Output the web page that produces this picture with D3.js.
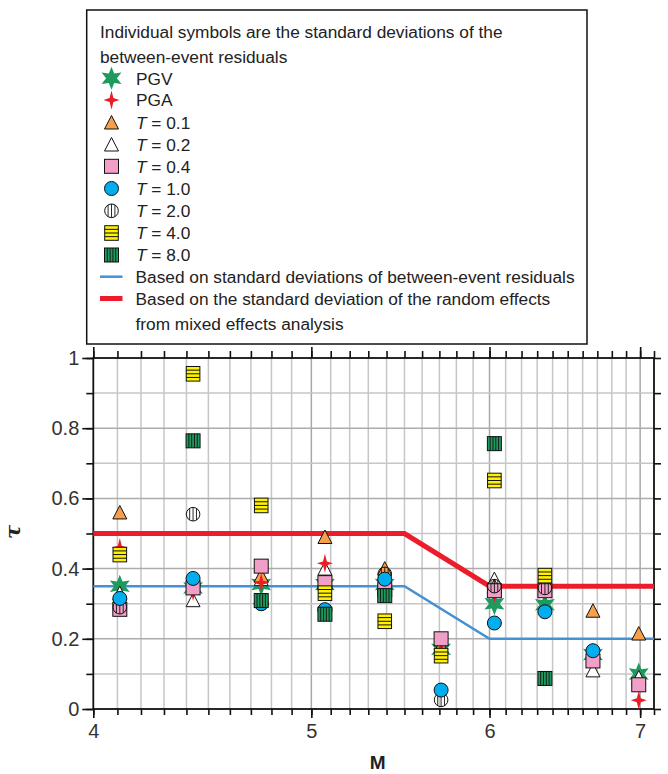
<!DOCTYPE html>
<html>
<head>
<meta charset="utf-8">
<script src="https://cdn.jsdelivr.net/npm/d3@7"></script>
<style>
  html, body { margin: 0; padding: 0; background: #fff; }
  svg { display: block; font-family: "Liberation Sans", Arial, Helvetica, sans-serif; }
</style>
</head>
<body>
<svg id="chart" width="668" height="774"></svg>
<script>
// Magnitude bin centres and the between-event standard deviation (tau) for each intensity measure
const magnitudes = [4.11, 4.43, 4.75, 5.07, 5.39, 5.71, 6.03, 6.35, 6.67, 6.99];
const tauPGV = [0.35, 0.345, 0.355, 0.355, 0.355, 0.17, 0.30, 0.297, 0.155, 0.10];
const tauPGA = [0.46, 0.335, 0.36, 0.415, 0.355, 0.17, 0.33, null, null, 0.025];
const tauT01 = [0.56, null, 0.38, 0.49, 0.40, 0.18, 0.35, null, 0.28, 0.215];
const tauT02 = [0.33, 0.31, 0.37, 0.40, null, null, 0.37, null, 0.11, 0.09];
const tauT04 = [0.284, 0.345, 0.407, 0.36, 0.34, 0.20, 0.337, 0.337, 0.137, 0.069];
const tauT10 = [0.315, 0.372, 0.30, 0.283, 0.37, 0.054, 0.245, 0.277, 0.166, null];
const tauT20 = [0.29, 0.555, 0.30, 0.28, 0.385, 0.026, 0.35, 0.345, null, null];
const tauT40 = [0.44, 0.955, 0.58, 0.33, 0.25, 0.152, 0.651, 0.38, null, null];
const tauT80 = [null, 0.764, 0.309, 0.27, 0.323, null, 0.756, 0.087, null, null];

// Piecewise tau models
const modelM = [4.0, 5.5, 6.0, 7.1];
const tauBetweenEvent = [0.35, 0.35, 0.20, 0.20];
const tauRandomEffects = [0.50, 0.50, 0.35, 0.35];

// Axis ticks
const xMajorTicks = [4, 5, 6, 7];
const xTickLabels = ["4", "5", "6", "7"];
const yMajorTicks = [0, 0.2, 0.4, 0.6, 0.8, 1];
const yTickLabels = ["0", "0.2", "0.4", "0.6", "0.8", "1"];

const headerLines = ["Individual symbols are the standard deviations of the", "between-event residuals"];

const svg = d3.select("#chart");
const plotLeft = 93.3, plotRight = 654, plotTop = 358, plotBottom = 709;

const x = d3.scaleLog().domain([4, 7.1]).range([plotLeft, plotRight]);
const y = d3.scaleLinear().domain([0, 1]).range([plotBottom, plotTop]);

const colors = {
  pgv: "#1f9a5e", pga: "#ec1c24", orange: "#f7a04b", pink: "#f29fc7",
  blue: "#00aeef", yellow: "#fff200", green: "#1f9a5e",
  lineBlue: "#4591d3", lineRed: "#ec1c2a"
};

// ---------- grid ----------
const xMinor = d3.range(41, 71).map(v => v / 10);
const yMinor = d3.range(1, 10).map(v => v / 10);
const grid = svg.append("g");
grid.selectAll("line.vx").data(xMinor).join("line")
  .attr("x1", d => x(d)).attr("x2", d => x(d)).attr("y1", plotTop).attr("y2", plotBottom)
  .attr("stroke", d => xMajorTicks.includes(Math.round(d * 10) / 10) ? "#a8a8a8" : "#c6c6c6")
  .attr("stroke-width", 1.5);
grid.selectAll("line.hy").data(yMinor).join("line")
  .attr("x1", plotLeft).attr("x2", plotRight).attr("y1", d => y(d)).attr("y2", d => y(d))
  .attr("stroke", d => (Math.round(d * 10) % 2 === 0) ? "#acacac" : "#c6c6c6")
  .attr("stroke-width", 1.5);

// ---------- axes ----------
const axisColor = "#111";
const labelColor = "#333";
function styleAxis(g) {
  g.select(".domain").remove();
  g.selectAll(".tick line").attr("stroke", axisColor).attr("stroke-width", 1.6);
}
const yMinorAll = d3.range(0, 11).map(v => v / 10);
const xMinorAll = d3.range(40, 72).map(v => v / 10).filter(v => v <= 7.1);

// left
svg.append("g").attr("transform", `translate(${plotLeft},0)`)
  .call(d3.axisLeft(y).tickValues(yMinorAll).tickSize(7).tickFormat(""))
  .call(styleAxis);
svg.append("g").attr("transform", `translate(${plotLeft},0)`)
  .call(d3.axisLeft(y).tickValues(yMajorTicks).tickSize(11).tickPadding(3)
    .tickFormat((d, i) => yTickLabels[i]))
  .call(styleAxis)
  .call(g => g.selectAll(".tick text").attr("fill", labelColor).attr("font-size", 20)
    .attr("font-family", "Liberation Sans, Arial, sans-serif"));
// right
svg.append("g").attr("transform", `translate(${plotRight},0)`)
  .call(d3.axisRight(y).tickValues(yMinorAll).tickSize(7).tickFormat(""))
  .call(styleAxis);
// bottom
svg.append("g").attr("transform", `translate(0,${plotBottom})`)
  .call(d3.axisBottom(x).tickValues(xMinorAll).tickSize(6).tickFormat(""))
  .call(styleAxis);
svg.append("g").attr("transform", `translate(0,${plotBottom})`)
  .call(d3.axisBottom(x).tickValues(xMajorTicks).tickSize(9).tickPadding(6)
    .tickFormat((d, i) => xTickLabels[i]))
  .call(styleAxis)
  .call(g => g.selectAll(".tick text").attr("fill", labelColor).attr("font-size", 20)
    .attr("font-family", "Liberation Sans, Arial, sans-serif"));
// top
svg.append("g").attr("transform", `translate(0,${plotTop})`)
  .call(d3.axisTop(x).tickValues(xMinorAll).tickSize(7).tickFormat(""))
  .call(styleAxis);
svg.append("g").attr("transform", `translate(0,${plotTop})`)
  .call(d3.axisTop(x).tickValues(xMajorTicks).tickSize(11).tickFormat(""))
  .call(styleAxis);

// frame
svg.append("rect").attr("x", plotLeft).attr("y", plotTop)
  .attr("width", plotRight - plotLeft).attr("height", plotBottom - plotTop)
  .attr("fill", "none").attr("stroke", axisColor).attr("stroke-width", 1.8);

// axis titles
svg.append("text").attr("x", (plotLeft + plotRight) / 2 + 4).attr("y", 769)
  .attr("text-anchor", "middle").attr("font-weight", "bold").attr("font-size", 19)
  .attr("fill", "#222").text("M");
svg.append("text").attr("transform", "translate(20,532) rotate(-90)")
  .attr("text-anchor", "middle").attr("font-weight", "bold").attr("font-style", "italic")
  .attr("font-size", 21).attr("fill", "#222").attr("font-family", "DejaVu Serif, serif").text("τ");

// ---------- model lines ----------
const line = d3.line().x(d => x(d[0])).y(d => y(d[1]));
svg.append("path").datum(modelM.map((m, i) => [m, tauBetweenEvent[i]]))
  .attr("d", line).attr("fill", "none").attr("stroke", colors.lineBlue).attr("stroke-width", 2.5);
svg.append("path").datum(modelM.map((m, i) => [m, tauRandomEffects[i]]))
  .attr("d", line).attr("fill", "none").attr("stroke", colors.lineRed).attr("stroke-width", 5)
  .attr("stroke-linejoin", "miter");

// ---------- symbols ----------
function starPath(n, rOuter, rInner) {
  const pts = [];
  for (let i = 0; i < 2 * n; i++) {
    const a = -Math.PI / 2 + i * Math.PI / n;
    const r = i % 2 === 0 ? rOuter : rInner;
    pts.push([r * Math.cos(a), r * Math.sin(a)]);
  }
  return "M" + pts.map(p => p[0].toFixed(2) + "," + p[1].toFixed(2)).join("L") + "Z";
}
function sparklePath() {
  const pts = [];
  for (let i = 0; i < 8; i++) {
    const a = -Math.PI / 2 + i * Math.PI / 4;
    const r = i % 2 === 1 ? 2.7 : (i % 4 === 0 ? 9.5 : 8);
    pts.push([r * Math.cos(a), r * Math.sin(a)]);
  }
  return "M" + pts.map(p => p[0].toFixed(2) + "," + p[1].toFixed(2)).join("L") + "Z";
}
const s = 7;
const drawers = {
  pgv: g => g.append("path").attr("d", starPath(6, 11.5, 5.4)).attr("fill", colors.pgv),
  pga: g => g.append("path").attr("d", sparklePath()).attr("fill", colors.pga),
  t01: g => g.append("path").attr("d", "M0,-7L7,6.5L-7,6.5Z").attr("fill", colors.orange)
    .attr("stroke", "#111").attr("stroke-width", 1),
  t02: g => g.append("path").attr("d", "M0,-7L7,6.5L-7,6.5Z").attr("fill", "#fff")
    .attr("stroke", "#111").attr("stroke-width", 1),
  t04: g => g.append("rect").attr("x", -s).attr("y", -s).attr("width", 2 * s).attr("height", 2 * s)
    .attr("fill", colors.pink).attr("stroke", "#111").attr("stroke-width", 1),
  t10: g => g.append("circle").attr("r", 7).attr("fill", colors.blue)
    .attr("stroke", "#111").attr("stroke-width", 1),
  t20: g => {
    g.append("circle").attr("r", 6.8).attr("fill", "none").attr("stroke", "#111").attr("stroke-width", 1);
    [-3.4, 0, 3.4].forEach(dx => {
      const h = Math.sqrt(6.8 * 6.8 - dx * dx);
      g.append("line").attr("x1", dx).attr("x2", dx).attr("y1", -h).attr("y2", h)
        .attr("stroke", "#111").attr("stroke-width", 0.9);
    });
  },
  t40: g => {
    g.append("rect").attr("x", -6.8).attr("y", -7.3).attr("width", 13.6).attr("height", 14.6)
      .attr("fill", colors.yellow).attr("stroke", "#111").attr("stroke-width", 1);
    [-3.65, 0, 3.65].forEach(dy => g.append("line").attr("x1", -6.8).attr("x2", 6.8)
      .attr("y1", dy).attr("y2", dy).attr("stroke", "#111").attr("stroke-width", 1));
  },
  t80: g => {
    g.append("rect").attr("x", -7).attr("y", -7).attr("width", 14).attr("height", 14)
      .attr("fill", colors.green).attr("stroke", "#111").attr("stroke-width", 1);
    [-4.2, -1.4, 1.4, 4.2].forEach(dx => g.append("line").attr("x1", dx).attr("x2", dx)
      .attr("y1", -7).attr("y2", 7).attr("stroke", "#111").attr("stroke-width", 0.9));
  }
};

// drawing order (later series are drawn on top)
const series = [
  { key: "pgv", values: tauPGV },
  { key: "t02", values: tauT02 },
  { key: "t01", values: tauT01 },
  { key: "pga", values: tauPGA },
  { key: "t04", values: tauT04 },
  { key: "t20", values: tauT20 },
  { key: "t10", values: tauT10 },
  { key: "t40", values: tauT40 },
  { key: "t80", values: tauT80 }
];
const marks = svg.append("g");
series.forEach(sr => {
  const pts = magnitudes.map((m, i) => ({ m, t: sr.values[i] })).filter(d => d.t != null);
  marks.append("g").selectAll("g").data(pts).join("g")
    .attr("transform", d => `translate(${x(d.m)},${y(d.t)})`)
    .each(function () { drawers[sr.key](d3.select(this)); });
});

// ---------- legend ----------
const lg = svg.append("g");
lg.append("rect").attr("x", 86.7).attr("y", 10).attr("width", 500.3).attr("height", 334)
  .attr("fill", "#fff").attr("stroke", "#111").attr("stroke-width", 1.5);
const legFont = 17.3;
headerLines.forEach((t, i) => lg.append("text").attr("x", 100).attr("y", 38 + i * 25)
  .attr("font-size", legFont).attr("fill", "#222").text(t));

const legendItems = [
  { key: "pgv", label: "PGV" },
  { key: "pga", label: "PGA" },
  { key: "t01", period: "0.1" },
  { key: "t02", period: "0.2" },
  { key: "t04", period: "0.4" },
  { key: "t10", period: "1.0" },
  { key: "t20", period: "2.0" },
  { key: "t40", period: "4.0" },
  { key: "t80", period: "8.0" }
];
const rowY = [78.3, 100, 122.5, 144.5, 166.3, 188.5, 210.8, 233, 255];
legendItems.forEach((it, i) => {
  const gy = rowY[i];
  const sg = lg.append("g").attr("transform", `translate(111.5,${gy})`);
  drawers[it.key](sg);
  const tx = lg.append("text").attr("x", 136).attr("y", gy + 6.3).attr("font-size", legFont).attr("fill", "#222");
  if (it.label) tx.text(it.label);
  else {
    tx.append("tspan").attr("font-style", "italic").text("T");
    tx.append("tspan").text(" = " + it.period);
  }
});
lg.append("line").attr("x1", 100).attr("x2", 122.5).attr("y1", 276.7).attr("y2", 276.7)
  .attr("stroke", colors.lineBlue).attr("stroke-width", 2.5);
lg.append("text").attr("x", 135.5).attr("y", 283).attr("font-size", legFont).attr("fill", "#222")
  .text("Based on standard deviations of between-event residuals");
lg.append("line").attr("x1", 100).attr("x2", 122.5).attr("y1", 298.5).attr("y2", 298.5)
  .attr("stroke", colors.lineRed).attr("stroke-width", 5);
lg.append("text").attr("x", 135.5).attr("y", 305).attr("font-size", legFont).attr("fill", "#222")
  .text("Based on the standard deviation of the random effects");
lg.append("text").attr("x", 135.5).attr("y", 330).attr("font-size", legFont).attr("fill", "#222")
  .text("from mixed effects analysis");
</script>
</body>
</html>
